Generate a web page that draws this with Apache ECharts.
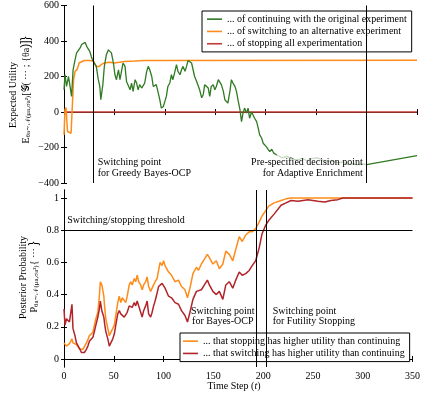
<!DOCTYPE html>
<html>
<head>
<meta charset="utf-8">
<script src="https://cdn.jsdelivr.net/npm/echarts@6/dist/echarts.min.js"></script>
<style>
html,body{margin:0;padding:0;background:#fff}
#chart{width:423px;height:394px}
</style>
</head>
<body>
<div id="chart"></div>
<script>
// top panel: expected utility of each action
var contT = [0,1,2.5,4.5,6,7.5,9,11,12.5,14,16,17.5,19,21,22.5,24,25.5,27.5,29,30.5,32,34,35.5,36.5,38.5,40,42,44,45.5,47,49,50.5,52,54,55.5,57,58.5,60.5,62,63.5,65.5,67,68.5,70.5,72,73.5,75,77,78.5,80,82,83.5,85,87,88.5,90,91.5,93.5,95,96.5,98.5,100,101.5,103,105,106.5,108,110,111.5,113,115,116.5,118,120,121.5,123,124.5,126.5,128,129.5,131.5,133,134.5,136.5,138,139.5,141,143,144.5,146,148,149.5,151,153,154.5,156,158,159.5,161,162.5,164.5,166,167.5,169.5,171,172.5,174.5,176,177.5,179,181,182.5,184,186,187.5,189,191,192.5,194,196,197.5,199,200.5,202,204,206,208,211];
var contU = [125,211,144,200,144,88,238,295,333,325,361,380,389,392,370,378,342,305,285,292,257,182,144,69,154,257,323,350,361,333,276,210,182,238,182,229,276,257,172,182,125,163,116,182,163,125,154,135,125,163,229,257,238,200,144,135,154,106,69,22,31,60,88,144,165,210,182,229,267,229,210,238,257,229,257,290,300,276,238,200,172,163,125,80,97,154,163,135,88,144,154,125,144,182,172,154,116,69,60,50,116,182,163,144,116,69,12,-54,-6,22,-6,22,-35,0,-6,-35,-54,-90,-129,-148,-176,-167,-195,-204,-223,-210,-232,-242];
var fadeT = [211,216,221,226,231,236,241,246,251,256,261,266,271,276,281,286,291,296,300];
var fadeU = [-242,-258,-250,-265,-270,-262,-275,-262,-258,-270,-280,-275,-285,-282,-295,-290,-298,-292,-296];
var lateT = [300,325,350];
var lateU = [-296,-271,-246];
var switchT = [0,1,2,3.5,5,7,8.2,8.7,9.5,11,13,15,16.5,20,25,29,30.5,32,35,37,40,45,50,55,60,70,80,100,350];
var switchU = [-129,12,25,-110,-118,-120,-115,88,182,229,240,276,285,290,290,288,280,257,257,268,276,280,276,280,285,287,290,290,291];
var stopT = [0,350];
var stopU = [0,0];

// bottom panel: posterior probabilities
var probT = [0,1,2.5,4,5.5,6.5,8,9,11,12.5,14,16,17.5,19,20.5,22.5,24,25.5,27.5,29,30.5,32,34,35.5,36.5,38,40,41,42,44,45.5,47,49,50.5,52,54,55.5,57,58.5,60.5,62,63.5,65.5,67,68.5,70.5,72,73.5,75,77,78.5,80,82,83.5,85,87,88.5,90,91.5,93.5,95,96.5,98.5,100,101.5,105,108,111.5,115,118,121.5,124,126.5,129.5,133,135,138,141,144,146,149.5,153,156,159.5,162.5,166,169.5,172.5,176,179,182.5,186,189,192.5,196,199,202.5,205.5,211,218,223,228,235,245,255,262,268,275,280,350];
var probStop = [0.10,0.09,0.08,0.085,0.095,0.10,0.125,0.10,0.11,0.09,0.08,0.06,0.05,0.06,0.065,0.10,0.12,0.145,0.14,0.165,0.21,0.25,0.29,0.39,0.48,0.46,0.39,0.31,0.25,0.19,0.145,0.15,0.19,0.21,0.27,0.35,0.39,0.35,0.38,0.37,0.35,0.39,0.46,0.48,0.46,0.50,0.48,0.52,0.48,0.46,0.43,0.46,0.48,0.51,0.45,0.42,0.43,0.46,0.48,0.50,0.55,0.60,0.58,0.61,0.58,0.54,0.52,0.48,0.49,0.45,0.43,0.38,0.44,0.53,0.57,0.55,0.59,0.62,0.65,0.63,0.59,0.61,0.56,0.59,0.67,0.65,0.61,0.68,0.76,0.73,0.77,0.79,0.79,0.81,0.85,0.89,0.92,0.95,0.97,0.985,0.995,1,1,1,1,1,1,1,1,1];
var probSwitch = [0.31,0.21,0.25,0.26,0.23,0.24,0.34,0.19,0.145,0.10,0.09,0.06,0.04,0.03,0.04,0.06,0.08,0.11,0.10,0.135,0.17,0.21,0.26,0.31,0.36,0.30,0.26,0.21,0.17,0.125,0.08,0.09,0.125,0.155,0.21,0.28,0.30,0.28,0.28,0.26,0.25,0.29,0.33,0.34,0.32,0.35,0.33,0.36,0.33,0.29,0.26,0.30,0.33,0.36,0.28,0.26,0.29,0.33,0.36,0.41,0.45,0.46,0.47,0.46,0.44,0.39,0.38,0.35,0.34,0.30,0.27,0.23,0.29,0.37,0.42,0.41,0.43,0.46,0.49,0.46,0.42,0.40,0.42,0.37,0.46,0.48,0.44,0.49,0.54,0.52,0.53,0.55,0.58,0.61,0.69,0.78,0.83,0.86,0.90,0.955,0.97,0.985,0.98,0.99,0.98,0.975,0.985,0.99,1,1];

var greedyPoint = 29, decisionPoint = 300, bayesPoint = 193, futilityPoint = 203;
var threshold = 0.8;
var utilTicks = [-400,-200,0,200,400,600];
var probTicks = [0,0.2,0.4,0.6,0.8,1];

var serif = 'Liberation Serif, DejaVu Serif, serif';

function pairs(t, v)
{
	var out = [];
	for (var i = 0; i < t.length; i++) {
		out.push([t[i], v[i]]);
	}
	return out;
}

function xAxisOf(grid, pos, labels)
{
	return {
		type: 'value', gridIndex: grid, position: pos, min: 0, max: 350, interval: 50,
		axisLine: { lineStyle: { color: '#000', width: 1 } },
		axisTick: { inside: true, length: 3, lineStyle: { color: '#000' } },
		axisLabel: { show: labels, color: '#000', fontFamily: serif, fontSize: 10, margin: 4 },
		splitLine: { show: false }
	};
}

function yAxisOf(grid, pos, labels, min, max, ticks, fmt)
{
	return {
		type: 'value', gridIndex: grid, position: pos, min: min, max: max,
		axisLine: { show: true, lineStyle: { color: '#000', width: 1 } },
		axisTick: { show: true, inside: true, length: 3, customValues: ticks, lineStyle: { color: '#000' } },
		axisLabel: { show: labels, customValues: ticks, color: '#000', fontFamily: serif, fontSize: 10, margin: 5, formatter: fmt },
		splitLine: { show: false }
	};
}

function utilFmt(v) { return v < 0 ? '\u2212' + Math.abs(v) : String(v); }
function probFmt(v) { return String(v); }

function line(name, xi, yi, data, color, width, opacity)
{
	return {
		name: name, type: 'line', xAxisIndex: xi, yAxisIndex: yi, data: data,
		symbol: 'none', animation: false,
		lineStyle: { color: color, width: width, opacity: opacity == null ? 1 : opacity },
		itemStyle: { color: color }
	};
}

var vline = { symbol: ['none','none'], silent: true, animation: false, label: { show: false },
	lineStyle: { color: '#000', width: 1, type: 'solid' } };

var nContinue = '... of continuing with the original experiment';
var nSwitch = '... of switching to an alternative experiment';
var nStop = '... of stopping all experimentation';
var nPStop = '... that stopping has higher utility than continuing';
var nPSwitch = '... that switching has higher utility than continuing';

var green = '#2f7a22', orange = '#ff8c1a', red = '#c43a35', darkred = '#b0242a';

var sStop = line(nStop, 0, 0, pairs(stopT, stopU), red, 1.5);
sStop.markLine = Object.assign({ data: [{ xAxis: greedyPoint }, { xAxis: decisionPoint }] }, vline);

var sPSwitch = line(nPSwitch, 2, 2, pairs(probT, probSwitch), darkred, 1.5);
sPSwitch.markLine = Object.assign({ data: [{ xAxis: bayesPoint }, { xAxis: futilityPoint }, { yAxis: threshold }] }, vline);

function txt(x, y, s, align, extra)
{
	var o = { type: 'text', x: x, y: y, z: 100,
		style: { text: s, font: '10px ' + serif, fill: '#000', align: align, verticalAlign: 'middle' } };
	if (extra) { for (var k in extra) o[k] = extra[k]; }
	return o;
}

function mathTxt(x, y, s)
{
	return { type: 'text', x: x, y: y, rotation: Math.PI / 2, z: 100,
		style: { text: s, fill: '#000', align: 'center', verticalAlign: 'middle',
			rich: {
				b: { fontFamily: serif, fontSize: 10, fill: '#000' },
				s: { fontFamily: serif, fontSize: 7, fill: '#000', padding: [4, 0, 0, 0] }
			} } };
}

var legendBase = {
	orient: 'vertical', icon: 'rect', itemWidth: 15, itemHeight: 1.6, itemGap: 0,
	borderColor: '#000', borderWidth: 1, borderRadius: 0, backgroundColor: '#fff',
	textStyle: { fontFamily: serif, fontSize: 10, color: '#000', lineHeight: 12.3 }
};

var chart = echarts.init(document.getElementById('chart'));
chart.setOption({
	animation: false,
	backgroundColor: '#fff',
	grid: [
		{ left: 64, right: 6, top: 5.5, height: 177.5 },
		{ left: 64, right: 6, top: 190, height: 177 }
	],
	xAxis: [ xAxisOf(0, 'bottom', false), xAxisOf(0, 'top', false), xAxisOf(1, 'bottom', true), xAxisOf(1, 'top', false) ],
	yAxis: [
		yAxisOf(0, 'left', true, -400, 600, utilTicks, utilFmt),
		yAxisOf(0, 'right', false, -400, 600, utilTicks, utilFmt),
		yAxisOf(1, 'left', true, -0.05, 1.05, probTicks, probFmt),
		yAxisOf(1, 'right', false, -0.05, 1.05, probTicks, probFmt)
	],
	legend: [
		Object.assign({}, legendBase, { data: [nContinue, nSwitch, nStop], left: 202, top: 11, padding: [2, 5, 2, 5] }),
		Object.assign({}, legendBase, { data: [nPStop, nPSwitch], left: 180, top: 333, padding: [2, 5, 2, 3] })
	],
	series: [
		sStop,
		line(nSwitch, 0, 0, pairs(switchT, switchU), orange, 1.5),
		line(nContinue, 0, 0, pairs(contT, contU), green, 1.3),
		line('faded', 0, 0, pairs(fadeT, fadeU), green, 1.2, 0.3),
		line('late', 0, 0, pairs(lateT, lateU), green, 1.3),
		line(nPStop, 2, 2, pairs(probT, probStop), orange, 1.5),
		sPSwitch
	],
	graphic: [
		txt(97.7, 162, 'Switching point', 'left'),
		txt(97.7, 173, 'for Greedy Bayes-OCP', 'left'),
		txt(362.7, 162, 'Pre-specified decision point', 'right'),
		txt(362.7, 173, 'for Adaptive Enrichment', 'right'),
		txt(67.3, 220.7, 'Switching/stopping threshold', 'left'),
		txt(222.8, 311, 'Switching point', 'center'),
		txt(222.8, 321.5, 'for Bayes-OCP', 'center'),
		txt(272.7, 311, 'Switching point', 'left'),
		txt(272.7, 321.5, 'for Futility Stopping', 'left'),
		{ type: 'text', x: 234, y: 386.7, z: 100,
			style: { text: '{b|Time Step (}{i|t}{b|)}', align: 'center', verticalAlign: 'middle',
				rich: { b: { fontFamily: serif, fontSize: 10, fill: '#000' },
					i: { fontFamily: serif, fontSize: 10, fontStyle: 'italic', fill: '#000' } } } },
		txt(13.3, 95, 'Expected Utility', 'center', { rotation: Math.PI / 2 }),
		mathTxt(26, 90, '{b|E}{s|\u03b8a\u223c\ud835\udca9(\u03bca,\u03c3a\u00b2)}{b|[\ud835\udca2( \u22ef ; {\u03b8a})]}'),
		txt(23, 277.5, 'Posterior Probability', 'center', { rotation: Math.PI / 2 }),
		mathTxt(34, 277, '{b|P}{s|\u03b8a\u223c\ud835\udca9(\u03bca,\u03c3a\u00b2)}{b|{ \u22ef }}')
	]
});
</script>
</body>
</html>
